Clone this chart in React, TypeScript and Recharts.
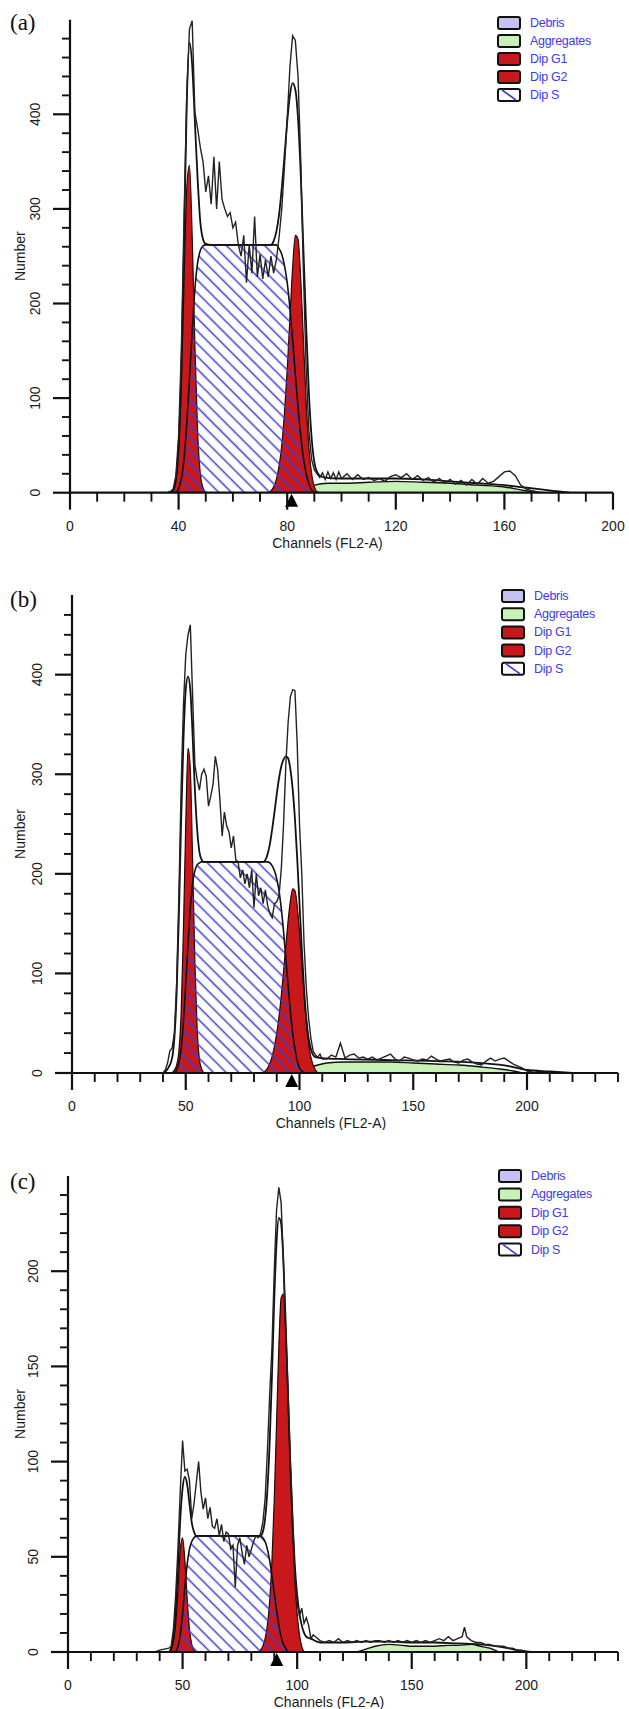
import React from "react";
import { ComposedChart, Area, Line, XAxis, YAxis, ReferenceDot } from "recharts";

type Pt = [number, number];

// ---------- panel (a) ----------
const aRaw: Pt[] = [
  [30, 0], [36, 0], [37, 1], [38, 4], [39, 18], [40, 60], [41, 150], [42, 290], [43, 420], [44, 490],
  [45, 499], [46, 402], [47, 385], [48, 365], [49, 350], [50, 318], [51, 335], [52, 305], [53, 355],
  [54, 300], [55, 350], [56, 310], [57, 300], [58, 292], [59, 296], [60, 280], [61, 286], [62, 262],
  [63, 250], [64, 272], [65, 222], [66, 262], [67, 232], [68, 292], [69, 228], [70, 252], [71, 226],
  [72, 246], [73, 228], [74, 250], [75, 232], [76, 246], [77, 270], [78, 300], [79, 345], [80, 395],
  [81, 450], [82, 483], [83, 478], [84, 440], [85, 350], [86, 230], [87, 130], [88, 65], [89, 35],
  [90, 24], [91, 20], [92, 16], [93, 21], [94, 14], [95, 22], [96, 15], [97, 21], [98, 14], [99, 22],
  [100, 15], [102, 20], [104, 14], [106, 19], [108, 14], [110, 16], [112, 13], [114, 15], [116, 12],
  [118, 17], [120, 19], [122, 16], [124, 20], [126, 14], [128, 18], [130, 13], [132, 16], [134, 11],
  [136, 15], [138, 10], [140, 14], [142, 9], [144, 13], [146, 8], [148, 14], [150, 9], [152, 15],
  [154, 10], [156, 12], [158, 17], [160, 22], [162, 23], [164, 18], [166, 8], [168, 4], [170, 2],
  [172, 1], [174, 0],
];
const aFit: Pt[] = [
  [36, 0], [38, 3], [39, 15], [40, 50], [41, 130], [42, 265], [43, 410], [44, 476], [45, 452],
  [46, 392], [47, 332], [48, 286], [49, 268], [50, 263], [52, 262], [74, 262], [75, 266], [76, 276],
  [77, 294], [78, 322], [79, 356], [80, 392], [81, 420], [82, 433], [83, 426], [84, 395], [85, 335],
  [86, 255], [87, 175], [88, 105], [89, 58], [90, 32], [91, 22], [92, 18], [94, 16], [100, 15],
  [110, 15], [120, 15], [130, 14], [140, 12], [150, 10], [160, 8], [166, 6], [172, 4], [178, 2], [184, 0],
];
const aG1: Pt[] = [
  [37, 0], [38, 2], [39, 12], [40, 42], [41, 112], [42, 222], [43, 322], [44, 346], [45, 272],
  [46, 156], [47, 65], [48, 20], [49, 5], [50, 0],
];
const aG2: Pt[] = [
  [73, 0], [74, 2], [75, 6], [76, 14], [77, 28], [78, 50], [79, 85], [80, 130], [81, 185], [82, 238],
  [83, 272], [84, 268], [85, 225], [86, 160], [87, 95], [88, 48], [89, 20], [90, 6], [91, 1], [92, 0],
];
const aS: Pt[] = [
  [39, 0], [40, 4], [41, 14], [42, 36], [43, 72], [44, 120], [45, 170], [46, 215], [47, 243], [48, 256],
  [49, 261], [50, 262], [76, 262], [77, 258], [78, 252], [79, 240], [80, 222], [81, 195], [82, 162],
  [83, 125], [84, 90], [85, 60], [86, 36], [87, 20], [88, 9], [89, 3], [90, 0],
];
const aAgg: Pt[] = [
  [84, 0], [86, 3], [88, 6], [90, 8], [95, 10], [100, 10], [110, 11], [120, 12], [130, 11], [140, 10],
  [150, 8], [160, 6], [166, 3], [170, 1], [172, 0],
];
const aMarker = 81.6;
const aXTicks = [0, 10, 20, 30, 40, 50, 60, 70, 80, 90, 100, 110, 120, 130, 140, 150, 160, 170, 180, 190, 200];
const aXMajor = [0, 40, 80, 120, 160, 200];
const aYTicks = [0, 20, 40, 60, 80, 100, 120, 140, 160, 180, 200, 220, 240, 260, 280, 300, 320, 340, 360, 380, 400, 420, 440, 460, 480];
const aYMajor = [0, 100, 200, 300, 400];

// ---------- panel (b) ----------
const bRaw: Pt[] = [
  [36, 0], [40, 0], [41, 3], [42, 10], [43, 22], [44, 25], [45, 40], [46, 90], [47, 180], [48, 290],
  [49, 370], [50, 420], [51, 440], [52, 450], [53, 380], [54, 310], [55, 295], [56, 284], [57, 300],
  [58, 305], [59, 298], [60, 268], [61, 278], [62, 290], [63, 318], [64, 305], [65, 275], [66, 238],
  [67, 262], [68, 248], [69, 242], [70, 226], [71, 238], [72, 214], [73, 212], [74, 196], [75, 204],
  [76, 190], [77, 200], [78, 186], [79, 204], [80, 166], [81, 200], [82, 178], [83, 186], [84, 170],
  [85, 184], [86, 168], [87, 160], [88, 156], [89, 170], [90, 172], [91, 178], [92, 205], [93, 250],
  [94, 310], [95, 352], [96, 378], [97, 385], [98, 384], [99, 330], [100, 250], [101, 200], [102, 130],
  [103, 85], [104, 55], [105, 35], [106, 22], [107, 18], [108, 16], [109, 19], [110, 14], [112, 14],
  [114, 18], [116, 16], [118, 30], [120, 15], [122, 18], [124, 19], [126, 15], [128, 16], [130, 14],
  [132, 16], [134, 13], [136, 15], [138, 17], [140, 19], [142, 14], [144, 12], [146, 16], [148, 15],
  [150, 13], [152, 12], [154, 14], [156, 13], [158, 17], [160, 14], [162, 12], [164, 13], [166, 14],
  [168, 11], [170, 10], [172, 13], [174, 14], [176, 11], [178, 9], [180, 8], [182, 12], [184, 15],
  [186, 12], [188, 14], [190, 15], [192, 12], [194, 9], [196, 7], [198, 5], [200, 2], [202, 1], [204, 0],
];
const bFit: Pt[] = [
  [40, 0], [42, 4], [44, 15], [45, 35], [46, 80], [47, 160], [48, 255], [49, 335], [50, 385], [51, 398],
  [52, 385], [53, 340], [54, 285], [55, 245], [56, 222], [57, 214], [58, 212], [84, 212], [85, 214],
  [86, 220], [87, 230], [88, 245], [89, 262], [90, 280], [91, 296], [92, 308], [93, 315], [94, 318],
  [95, 316], [96, 305], [97, 285], [98, 255], [99, 215], [100, 170], [101, 125], [102, 85], [103, 55],
  [104, 35], [105, 24], [106, 18], [107, 16], [110, 15], [120, 14], [140, 13], [160, 12], [180, 10],
  [192, 7], [200, 3], [210, 1.5], [220, 0],
];
const bG1: Pt[] = [
  [44, 0], [45, 3], [46, 8], [47, 22], [48, 62], [49, 145], [50, 250], [51, 326], [52, 305], [53, 215],
  [54, 112], [55, 45], [56, 14], [57, 4], [58, 0],
];
const bG2: Pt[] = [
  [84, 0], [85, 2], [86, 5], [87, 10], [88, 17], [89, 27], [90, 40], [91, 57], [92, 78], [93, 102],
  [94, 128], [95, 153], [96, 173], [97, 185], [98, 183], [99, 168], [100, 142], [101, 110], [102, 78],
  [103, 50], [104, 30], [105, 16], [106, 8], [107, 3], [108, 0],
];
const bS: Pt[] = [
  [45, 0], [46, 3], [47, 10], [48, 25], [49, 52], [50, 90], [51, 130], [52, 165], [53, 190], [54, 203],
  [55, 209], [56, 211], [57, 212], [86, 212], [87, 211], [88, 208], [89, 203], [90, 195], [91, 183],
  [92, 165], [93, 142], [94, 115], [95, 88], [96, 62], [97, 40], [98, 24], [99, 12], [100, 5], [101, 2],
  [102, 0],
];
const bAgg: Pt[] = [
  [98, 0], [100, 2], [104, 5], [108, 8], [112, 10], [120, 11], [130, 11], [140, 11], [150, 10],
  [160, 9], [170, 8], [180, 6], [188, 4], [194, 2], [198, 0],
];
const bMarker = 96.6;
const xTicks240 = [0, 10, 20, 30, 40, 50, 60, 70, 80, 90, 100, 110, 120, 130, 140, 150, 160, 170, 180, 190, 200, 210, 220, 230, 240];
const xMajor240 = [0, 50, 100, 150, 200];
const bYTicks = [0, 20, 40, 60, 80, 100, 120, 140, 160, 180, 200, 220, 240, 260, 280, 300, 320, 340, 360, 380, 400, 420, 440, 460];
const bYMajor = [0, 100, 200, 300, 400];

// ---------- panel (c) ----------
const cRaw: Pt[] = [
  [38, 0], [40, 1], [44, 2], [45, 3], [46, 12], [47, 30], [48, 55], [49, 85], [50, 111], [51, 95],
  [52, 96], [53, 90], [54, 70], [55, 78], [56, 89], [57, 100], [58, 84], [59, 75], [60, 81], [61, 70],
  [62, 76], [63, 66], [64, 65], [65, 70], [66, 61], [67, 67], [68, 58], [69, 63], [70, 62], [71, 54],
  [72, 56], [73, 34], [74, 56], [75, 60], [76, 52], [77, 46], [78, 56], [79, 50], [80, 54], [81, 58],
  [82, 61], [83, 60], [84, 62], [85, 68], [86, 80], [87, 105], [88, 135], [89, 160], [90, 200],
  [91, 232], [92, 244], [93, 236], [94, 205], [95, 170], [96, 138], [97, 102], [98, 72], [99, 40],
  [100, 26], [101, 19], [102, 23], [103, 15], [104, 18], [105, 14], [106, 7], [107, 9], [108, 8],
  [110, 6], [112, 5], [114, 6], [116, 5], [118, 7], [120, 5], [122, 6], [124, 5], [126, 6], [128, 5],
  [130, 6], [132, 5], [134, 6], [136, 6], [138, 5], [140, 6], [142, 5], [144, 6], [146, 5], [148, 6],
  [150, 5], [152, 6], [154, 5], [156, 6], [158, 5], [160, 6], [162, 7], [164, 6], [166, 8], [168, 6],
  [170, 7], [172, 8], [173, 13], [174, 8], [176, 6], [178, 5], [180, 5], [182, 4], [184, 4], [186, 3],
  [188, 3], [190, 3], [192, 2], [194, 2], [196, 1], [198, 1], [200, 0],
];
const cFit: Pt[] = [
  [44, 0], [45, 2], [46, 8], [47, 22], [48, 45], [49, 70], [50, 86], [51, 92], [52, 88], [53, 78],
  [54, 68], [55, 63], [56, 61], [84, 61], [85, 63], [86, 70], [87, 85], [88, 110], [89, 145], [90, 185],
  [91, 215], [92, 228], [93, 225], [94, 205], [95, 172], [96, 135], [97, 98], [98, 68], [99, 45],
  [100, 30], [101, 20], [102, 14], [103, 10], [104, 8], [106, 7], [110, 5], [120, 5], [130, 5.5],
  [140, 5.5], [150, 5], [160, 5], [170, 4.5], [180, 4], [190, 2.5], [196, 1], [202, 0],
];
const cG1: Pt[] = [
  [44, 0], [45, 1], [46, 5], [47, 15], [48, 33], [49, 54], [50, 60], [51, 48], [52, 28], [53, 12],
  [54, 4], [55, 1], [56, 0],
];
const cG2: Pt[] = [
  [83, 0], [84, 1], [85, 3], [86, 7], [87, 14], [88, 27], [89, 48], [90, 80], [91, 120], [92, 160],
  [93, 186], [94, 188], [95, 168], [96, 135], [97, 98], [98, 64], [99, 38], [100, 20], [101, 9],
  [102, 3], [103, 0],
];
const cS: Pt[] = [
  [47, 0], [48, 3], [49, 9], [50, 20], [51, 34], [52, 46], [53, 54], [54, 58], [55, 60], [56, 61],
  [84, 61], [85, 60], [86, 58], [87, 54], [88, 48], [89, 40], [90, 31], [91, 22], [92, 14], [93, 8],
  [94, 4], [95, 2], [96, 0],
];
const cAgg: Pt[] = [
  [126, 0], [130, 1.5], [134, 3], [140, 4], [146, 3.5], [150, 3], [156, 3], [160, 3], [166, 3.5],
  [170, 3.5], [176, 4], [180, 3], [184, 2], [188, 0],
];
const cMarker = 91.1;
const cYTicks = [0, 10, 20, 30, 40, 50, 60, 70, 80, 90, 100, 110, 120, 130, 140, 150, 160, 170, 180, 190, 200, 210, 220, 230, 240];
const cYMajor = [0, 50, 100, 150, 200];

const legendNames = ["Debris", "Aggregates", "Dip G1", "Dip G2", "Dip S"];

// ---------- styling ----------
const FONT = "'Liberation Sans', Arial, Helvetica, sans-serif";
const SERIF = "'Liberation Serif', 'Times New Roman', serif";
const INK = "#111";
const RED = "#c8181b";
const GREEN = "#c8f1b8";
const LAVENDER = "#c4c2f2";
const HATCH = "#3d3dd2";
const LEGEND_TEXT = "#3c3ce0";

const rows = (pts: Pt[]) => pts.map(([ch, v]) => ({ ch, v }));

const panels = [
  {
    id: "a", letter: "(a)", top: 0, height: 552, marginTop: 19.7, marginRight: 16,
    yAxisWidth: 70, xAxisHeight: 59.3, xMax: 200, yMax: 500,
    xTicks: aXTicks, xMajor: aXMajor, yTicks: aYTicks, yMajor: aYMajor,
    raw: aRaw, fit: aFit, g1: aG1, g2: aG2, s: aS, agg: aAgg, marker: aMarker,
    letterY: 30, legendX: 498, legendY: 23, legendStep: 18,
  },
  {
    id: "b", letter: "(b)", top: 560, height: 570, marginTop: 35, marginRight: 11,
    yAxisWidth: 72, xAxisHeight: 57, xMax: 240, yMax: 480,
    xTicks: xTicks240, xMajor: xMajor240, yTicks: bYTicks, yMajor: bYMajor,
    raw: bRaw, fit: bFit, g1: bG1, g2: bG2, s: bS, agg: bAgg, marker: bMarker,
    letterY: 607, legendX: 502, legendY: 596, legendStep: 18.2,
  },
  {
    id: "c", letter: "(c)", top: 1130, height: 579, marginTop: 46, marginRight: 11,
    yAxisWidth: 68, xAxisHeight: 57, xMax: 240, yMax: 250,
    xTicks: xTicks240, xMajor: xMajor240, yTicks: cYTicks, yMajor: cYMajor,
    raw: cRaw, fit: cFit, g1: cG1, g2: cG2, s: cS, agg: cAgg, marker: cMarker,
    letterY: 1189, legendX: 499, legendY: 1176, legendStep: 18.4,
  },
];

const XTick = ({ x, y, payload, majors }: any) => {
  const major = majors.includes(payload.value);
  return (
    <g>
      <line x1={x} x2={x} y1={y} y2={y + (major ? 17 : 9)} stroke={INK} strokeWidth={major ? 2.2 : 1.9} />
      {major && (
        <text x={x} y={y + 33} textAnchor="middle" dominantBaseline="central" fontSize={14} fill="#1a1a1a" fontFamily={FONT}>
          {payload.value}
        </text>
      )}
    </g>
  );
};

const YTick = ({ x, y, payload, majors }: any) => {
  const major = majors.includes(payload.value);
  const lx = x - 35;
  return (
    <g>
      <line x1={x - (major ? 17 : 8)} x2={x} y1={y} y2={y} stroke={INK} strokeWidth={major ? 2.2 : 1.9} />
      {major && (
        <text x={lx} y={y} transform={`rotate(-90 ${lx} ${y})`} textAnchor="middle" dominantBaseline="central" fontSize={14} fill="#1a1a1a" fontFamily={FONT}>
          {payload.value}
        </text>
      )}
    </g>
  );
};

const Marker = (props: any) => {
  const { cx, cy } = props;
  if (cx == null || cy == null) return null;
  return <polygon points={`${cx - 6.5},${cy + 14} ${cx + 6.5},${cy + 14} ${cx},${cy + 1}`} fill="#000" />;
};

function Panel({ p }: { p: (typeof panels)[number] }) {
  const hatchId = `hatch-${p.id}`;
  return (
    <div style={{ position: "absolute", left: 0, top: p.top, width: 629, height: p.height }}>
      <ComposedChart
        width={629}
        height={p.height}
        margin={{ top: p.marginTop, right: p.marginRight, left: 0, bottom: 0 }}
      >
        <defs>
          <pattern id={hatchId} patternUnits="userSpaceOnUse" width="9" height="9" patternTransform="rotate(45)">
            <line x1="0" y1="4.5" x2="9" y2="4.5" stroke={HATCH} strokeWidth="1.5" />
          </pattern>
        </defs>
        <XAxis
          dataKey="ch"
          type="number"
          domain={[0, p.xMax]}
          ticks={p.xTicks}
          interval={0}
          allowDataOverflow
          height={p.xAxisHeight}
          tickSize={0}
          tickMargin={0}
          tickLine={false}
          axisLine={{ stroke: INK, strokeWidth: 2.2 }}
          tick={(t: any) => <XTick {...t} majors={p.xMajor} />}
          label={{
            value: "Channels (FL2-A)",
            position: "insideBottom",
            offset: p.xAxisHeight - 55,
            dx: -14,
            style: { fontSize: 14, fill: "#1a1a1a", fontFamily: FONT },
          }}
        />
        <YAxis
          type="number"
          domain={[0, p.yMax]}
          ticks={p.yTicks}
          interval={0}
          allowDataOverflow
          width={p.yAxisWidth}
          tickSize={0}
          tickMargin={0}
          tickLine={false}
          axisLine={{ stroke: INK, strokeWidth: 2.2 }}
          tick={(t: any) => <YTick {...t} majors={p.yMajor} />}
          label={{
            value: "Number",
            angle: -90,
            position: "insideLeft",
            offset: 20,
            style: { fontSize: 14, fill: "#1a1a1a", fontFamily: FONT, textAnchor: "middle" },
          }}
        />
        <Area data={rows(p.agg)} dataKey="v" name="Aggregates" type="monotone" fill={GREEN} fillOpacity={1} stroke={INK} strokeWidth={1.4} isAnimationActive={false} dot={false} activeDot={false} />
        <Area data={rows(p.s)} dataKey="v" name="Dip S base" type="monotone" fill="#fff" fillOpacity={1} stroke="none" isAnimationActive={false} dot={false} activeDot={false} />
        <Area data={rows(p.g1)} dataKey="v" name="Dip G1" type="monotone" fill={RED} fillOpacity={1} stroke="#2a0404" strokeWidth={1.2} isAnimationActive={false} dot={false} activeDot={false} />
        <Area data={rows(p.g2)} dataKey="v" name="Dip G2" type="monotone" fill={RED} fillOpacity={1} stroke="#2a0404" strokeWidth={1.2} isAnimationActive={false} dot={false} activeDot={false} />
        <Area data={rows(p.s)} dataKey="v" name="Dip S" type="monotone" fill={`url(#${hatchId})`} fillOpacity={1} stroke={INK} strokeWidth={1.6} isAnimationActive={false} dot={false} activeDot={false} />
        <Line data={rows(p.fit)} dataKey="v" name="Model" type="monotone" stroke={INK} strokeWidth={1.8} dot={false} activeDot={false} isAnimationActive={false} />
        <Line data={rows(p.raw)} dataKey="v" name="Data" type="linear" stroke="#222" strokeWidth={1.4} dot={false} activeDot={false} isAnimationActive={false} />
        <ReferenceDot x={p.marker} y={0} r={0} ifOverflow="visible" shape={(d: any) => <Marker {...d} />} />
      </ComposedChart>
    </div>
  );
}

function LegendBox({ x, y, name, step, i }: { x: number; y: number; name: string; step: number; i: number }) {
  const cy = y + i * step;
  const fills: Record<string, string> = {
    Debris: LAVENDER,
    Aggregates: GREEN,
    "Dip G1": RED,
    "Dip G2": RED,
    "Dip S": "#fff",
  };
  return (
    <g>
      <rect x={x} y={cy - 6} width={22} height={12} rx={2} fill={fills[name]} stroke={INK} strokeWidth={2} />
      {name === "Dip S" && <line x1={x + 4} y1={cy - 5} x2={x + 18} y2={cy + 5} stroke={HATCH} strokeWidth={1.6} />}
      <text x={x + 32} y={cy} dominantBaseline="central" fontSize={12.5} fill={LEGEND_TEXT} fontFamily={FONT} letterSpacing={-0.3}>
        {name}
      </text>
    </g>
  );
}

export default function App() {
  return (
    <div style={{ position: "absolute", left: 0, top: 0, width: 629, height: 1709, background: "#fff", overflow: "hidden" }}>
      {panels.map((p) => (
        <Panel key={p.id} p={p} />
      ))}
      <svg width={629} height={1709} style={{ position: "absolute", left: 0, top: 0, pointerEvents: "none" }}>
        {panels.map((p) => (
          <g key={p.id}>
            <text x={10} y={p.letterY} fontSize={23} fontFamily={SERIF} fill="#111">
              {p.letter}
            </text>
            {legendNames.map((n, i) => (
              <LegendBox key={n} x={p.legendX} y={p.legendY} name={n} step={p.legendStep} i={i} />
            ))}
          </g>
        ))}
      </svg>
    </div>
  );
}
